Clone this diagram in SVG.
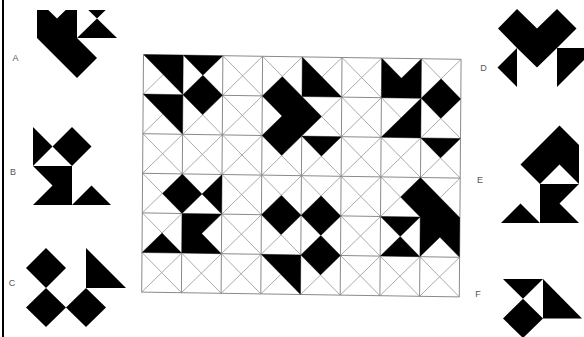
<svg xmlns="http://www.w3.org/2000/svg" width="584" height="337" viewBox="0 0 584 337">
<style>
.sq{stroke:#8a8a8a;stroke-width:1;fill:none;vector-effect:non-scaling-stroke}
.dg{stroke:#ababab;stroke-width:1;fill:none;vector-effect:non-scaling-stroke}
.blk{fill:#000;stroke:none}
.lbl{font-family:"Liberation Sans",Arial,sans-serif;font-size:9px;fill:#555;text-anchor:middle;dominant-baseline:central}
</style>
<rect width="584" height="337" fill="#fff"/>
<line x1="3" y1="0" x2="3" y2="337" stroke="#000" stroke-width="2"/>

<g id="grid" transform="matrix(39.7 0.6 -0.3 39.6 143.5 54.5)">
  <path class="dg" vector-effect="non-scaling-stroke" d="M0 5L1 6M0 4L2 6M0 3L3 6M0 2L4 6M0 1L5 6M0 0L6 6M1 0L7 6M2 0L8 6M3 0L8 5M4 0L8 4M5 0L8 3M6 0L8 2M7 0L8 1M1 0L0 1M2 0L0 2M3 0L0 3M4 0L0 4M5 0L0 5M6 0L0 6M7 0L1 6M8 0L2 6M8 1L3 6M8 2L4 6M8 3L5 6M8 4L6 6M8 5L7 6"/>
  <path class="sq" vector-effect="non-scaling-stroke" d="M0 0H8M0 1H8M0 2H8M0 3H8M0 4H8M0 5H8M0 6H8M0 0V6M1 0V6M2 0V6M3 0V6M4 0V6M5 0V6M6 0V6M7 0V6M8 0V6"/>
  <g id="grid-fills" class="blk">
    <polygon points="0,0 1,0 1,1"/>
    <polygon points="1,0 2,0 1.5,0.5"/>
    <polygon points="1.5,0.5 2,1 1.5,1.5 1,1"/>
    <polygon points="3.5,0.5 4,1 4.5,1.5 4,2 3.5,2.5 3,2 3.5,1.5 3,1"/>
    <polygon points="4,0 4,1 5,1"/>
    <polygon points="4,2 5,2 4.5,2.5"/>
    <polygon points="6,0 6.5,0.5 7,0 7,1 6,1"/>
    <polygon points="7.5,0.5 8,1 7.5,1.5 7,1"/>
    <polygon points="0,1 1,1 1,2"/>
    <polygon points="7,1 7,2 6,2"/>
    <polygon points="7,2 8,2 7.5,2.5"/>
    <polygon points="0.5,3.5 1,3 1.5,3.5 1,4"/>
    <polygon points="2,3 2,4 1.5,3.5"/>
    <polygon points="3.5,3.5 4,4 3.5,4.5 3,4"/>
    <polygon points="4.5,3.5 5,4 4.5,4.5 4,4"/>
    <polygon points="4.5,4.5 5,5 4.5,5.5 4,5"/>
    <polygon points="7,3 8,4 8,5 7.5,4.5 7,5 7,4 6.5,3.5"/>
    <polygon points="6,4 7,4 6.5,4.5"/>
    <polygon points="6,5 7,5 6.5,4.5"/>
    <polygon points="0,5 1,5 0.5,4.5"/>
    <polygon points="1,4 2,4 1.5,4.5 2,5 1,5"/>
    <polygon points="3,5 4,5 4,6"/>
  </g>
</g>

<g id="figure-A">
  <polygon class="blk" points="37,10 48.3,10 57,18.5 65.7,10 77,10 77,38 97,58 77,78 37,38"/>
  <polygon class="blk" points="88.3,10 105.7,10 97,18.5"/>
  <polygon class="blk" points="77,38 117,38 97,18.5"/>
  <text class="lbl" x="15.5" y="58">A</text>
</g>

<g id="figure-B">
  <polygon class="blk" points="33,127 52.5,146.5 33,166"/>
  <polygon class="blk" points="72,127 91.5,146.5 72,166 52.5,146.5"/>
  <polygon class="blk" points="33,166 72,166 72,205 33,205 52.5,185.5"/>
  <polygon class="blk" points="72,205 111,205 91.5,185.5"/>
  <text class="lbl" x="13" y="172">B</text>
</g>

<g id="figure-C">
  <polygon class="blk" points="46,248 66,268 46,288 26,268"/>
  <polygon class="blk" points="46,288 66,307.5 46,327 26,307.5"/>
  <polygon class="blk" points="86,288 106,307.5 86,327 66,307.5"/>
  <polygon class="blk" points="86,248 86,288 126,288"/>
  <text class="lbl" x="12" y="283">C</text>
</g>

<g id="figure-D">
  <polygon class="blk" points="498,28.5 517,9 537,28.5 557,9 576.5,28.5 557,48 537,67.5 517,48"/>
  <polygon class="blk" points="517,48 517,87 497.5,67.5"/>
  <polygon class="blk" points="557,48 596,48 557,87"/>
  <text class="lbl" x="483.5" y="68">D</text>
</g>

<g id="figure-E">
  <polygon class="blk" points="559.5,125.5 579,145 579,184 559.5,164.5 540,184 520.5,164.5 540,145"/>
  <polygon class="blk" points="540,184 579,184 559.5,203.5 579,223 540,223"/>
  <polygon class="blk" points="501,223 540,223 520.5,203.5"/>
  <text class="lbl" x="480" y="180">E</text>
</g>

<g id="figure-F">
  <polygon class="blk" points="503,279 543,279 523,298.75"/>
  <polygon class="blk" points="523,298.75 543,318.5 523,338 503,318.5"/>
  <polygon class="blk" points="543,279 543,318.5 582,318.5"/>
  <text class="lbl" x="478" y="294">F</text>
</g>
</svg>
